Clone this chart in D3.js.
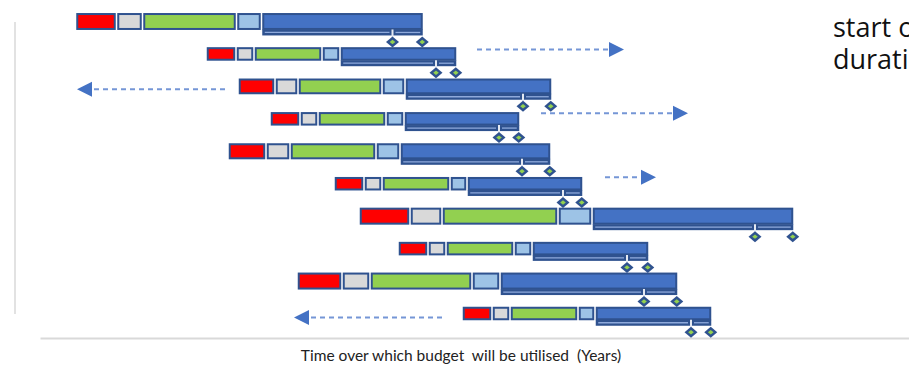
<!DOCTYPE html>
<html>
<head>
<meta charset="utf-8">
<script src="https://cdn.jsdelivr.net/npm/d3@7"></script>
<style>
  html, body { margin: 0; padding: 0; background: #fff; overflow: hidden; }
  svg { display: block; }
</style>
</head>
<body>
<svg id="chart" width="909" height="368"></svg>
<script>
// ---- data (years from the start of the programme) ----
const projects      = ["P1", "P2", "P3", "P4", "P5", "P6", "P7", "P8", "P9", "P10"];
const startYear     = [3.55, 16.6, 19.8, 23.0, 18.8, 29.4, 31.9, 35.8, 25.7, 42.2];
const phaseNames    = ["Approval", "Procurement", "Design", "Mobilisation", "Delivery"];
const approval      = [4.1, 3.0, 3.7, 3.0, 3.8, 3.0, 5.1, 3.0, 4.5, 3.0];
const procurement   = [2.6, 1.8, 2.3, 1.8, 2.4, 1.8, 3.2, 1.8, 2.8, 1.8];
const design        = [9.4, 6.8, 8.4, 6.8, 8.6, 6.8, 11.6, 6.8, 10.2, 6.8];
const mobilisation  = [2.5, 1.8, 2.3, 1.8, 2.4, 1.7, 3.4, 1.8, 2.8, 1.7];
const delivery      = [16.2, 11.7, 14.7, 11.6, 15.1, 11.6, 20.2, 11.7, 17.8, 11.7];
// first milestone, measured from the start of delivery
const milestoneOne  = [13.1, 9.6, 11.8, 9.5, 12.2, 9.6, 16.3, 9.5, 14.4, 9.6];

// possible shifts of a project in time (lane = row position, from -> to in years)
const shiftLane     = [0.86, 2.09, 2.83, 4.80, 9.12];
const shiftFrom     = [43.7, 18.5, 50.1, 56.5, 40.2];
const shiftTo       = [58.4, 3.7, 64.8, 61.6, 25.4];

const axisTitle  = "Time over which budget  will be utilised  (Years)";
const noteLines  = ["start or", "duration"];

// ---- styles ----
const phaseColors = ["#FF0000", "#D9D9D9", "#92D050", "#9DC3E6", "#4472C4"];
const navy = "#2F528F";

const svg = d3.select("#chart");

const x = d3.scaleLinear().domain([0, 86.9]).range([40, 909]);
const y = d3.scaleLinear().domain([0, projects.length - 1]).range([21.5, 313.5]);

const totals = projects.map((p, i) =>
  approval[i] + procurement[i] + design[i] + mobilisation[i] + delivery[i]);
const thickness = d3.scaleLinear().domain([25, 35, 43.5]).range([13.5, 17, 17]).clamp(true);

// ---- axes (lines only, no ticks) ----
svg.append("g")
  .attr("transform", "translate(0,338)")
  .call(d3.axisBottom(x).tickValues([]).tickSizeOuter(0))
  .call(g => g.select(".domain").attr("stroke", "#D9D9D9").attr("stroke-width", 2));

svg.append("g")
  .attr("transform", "translate(14.5,0)")
  .call(d3.axisLeft(y).tickValues([]).tickSizeOuter(0))
  .call(g => g.select(".domain").attr("stroke", "#D9D9D9").attr("stroke-width", 1.5));

svg.append("text")
  .attr("x", 461).attr("y", 361)
  .attr("text-anchor", "middle")
  .style("white-space", "pre")
  .attr("font-family", "Lato, 'Open Sans', sans-serif")
  .attr("font-size", 15.5)
  .attr("fill", "#222")
  .text(axisTitle);

// ---- shift arrows ----
const arrows = svg.append("g");
shiftLane.forEach((lane, i) => {
  const yy = y(lane);
  const x0 = x(shiftFrom[i]), tip = x(shiftTo[i]);
  const dir = Math.sign(tip - x0);
  const headLen = 15, headHalf = 7.5;
  const base = tip - dir * headLen;
  arrows.append("line")
    .attr("x1", x0).attr("x2", base)
    .attr("y1", yy).attr("y2", yy)
    .attr("stroke", "#7596D6").attr("stroke-width", 2)
    .attr("stroke-dasharray", "5,4");
  arrows.append("path")
    .attr("d", `M${tip},${yy} L${base},${yy - headHalf} L${base},${yy + headHalf} Z`)
    .attr("fill", "#4472C4");
});

// ---- project bars ----
const rows = svg.append("g");
projects.forEach((p, i) => {
  const cy = y(i);
  const h = thickness(totals[i]);
  const top = cy - h / 2, bottom = cy + h / 2;
  const durations = [approval[i], procurement[i], design[i], mobilisation[i], delivery[i]];
  let t = startYear[i];
  const g = rows.append("g");
  durations.forEach((d, k) => {
    const a = x(t), b = x(t + d);
    g.append("rect")
      .attr("x", a + 1.75).attr("y", top + 1)
      .attr("width", Math.max(0, b - a - 3.5)).attr("height", h - 2)
      .attr("fill", phaseColors[k])
      .attr("stroke", navy).attr("stroke-width", 2);
    t += d;
  });

  // delivery sub-bar with the two milestones
  const dStart = startYear[i] + totals[i] - delivery[i];
  const sx0 = x(dStart) + 0.75, sx1 = x(startYear[i] + totals[i]) - 0.75;
  const ms = x(dStart + milestoneOne[i]);
  const subTop = bottom - 0.5, subH = 6;
  g.append("rect")
    .attr("x", sx0).attr("y", subTop)
    .attr("width", sx1 - sx0).attr("height", subH)
    .attr("fill", navy);
  [[sx0 + 2.5, ms - 3], [ms + 3, sx1 - 2.5]].forEach(([a, b]) => {
    g.append("line")
      .attr("x1", a).attr("x2", b)
      .attr("y1", subTop + subH / 2).attr("y2", subTop + subH / 2)
      .attr("stroke", "#8FAADC").attr("stroke-width", 1.3);
  });
  const dy = bottom + 12;
  g.append("line")
    .attr("x1", ms).attr("x2", ms)
    .attr("y1", subTop).attr("y2", dy - 5)
    .attr("stroke", "#E4E9F2").attr("stroke-width", 2);

  [ms, sx1 - 0.5].forEach(mx => {
    g.append("path")
      .attr("d", `M${mx},${dy - 5.5} L${mx + 6.5},${dy} L${mx},${dy + 5.5} L${mx - 6.5},${dy} Z`)
      .attr("fill", navy);
    g.append("path")
      .attr("d", `M${mx},${dy - 2.2} L${mx + 2.8},${dy} L${mx},${dy + 2.2} L${mx - 2.8},${dy} Z`)
      .attr("fill", "#92D050");
  });
});

// ---- note at the top right (runs past the right edge) ----
const note = svg.append("text")
  .attr("font-family", "'Open Sans', 'Noto Sans', sans-serif")
  .attr("font-size", 27)
  .attr("fill", "#111");
noteLines.forEach((line, i) => {
  note.append("tspan").attr("x", 833).attr("y", 37 + i * 32).text(line);
});
</script>
</body>
</html>
